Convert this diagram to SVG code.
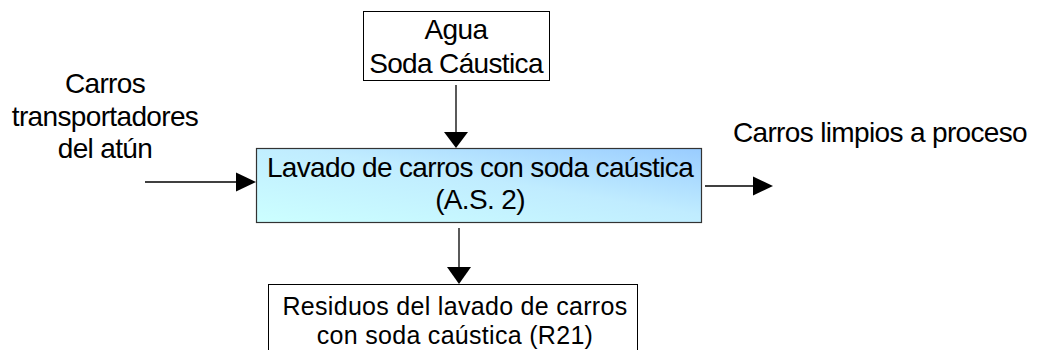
<svg xmlns="http://www.w3.org/2000/svg" width="1040" height="350" viewBox="0 0 1040 350">
<style>
text{font-family:"Liberation Sans",Arial,sans-serif;font-size:28px;fill:#000;text-anchor:middle;letter-spacing:-0.65px}
text.sm{font-size:25px;letter-spacing:0.3px}
.box{fill:#fff;stroke:#000;stroke-width:1}
.ln{stroke:#000;stroke-width:1.3;fill:none}
.ah{fill:#000}
</style>
<defs>
<linearGradient id="g" x1="0" y1="1" x2="1" y2="0">
<stop offset="0" stop-color="#ccffff"/>
<stop offset="0.55" stop-color="#c0ecff"/>
<stop offset="1" stop-color="#99ccff"/>
</linearGradient>
</defs>
<g id="entrada-agua">
<rect class="box" x="363.5" y="11.5" width="186" height="69"/>
<text x="456" y="39">Agua</text>
<text x="456" y="73">Soda Cáustica</text>
</g>
<g id="lavado">
<rect x="256.5" y="148.5" width="445" height="74" fill="url(#g)" stroke="#333" stroke-width="1.2"/>
<text x="480" y="176.5">Lavado de carros con soda caústica</text>
<text x="480" y="208.5">(A.S. 2)</text>
</g>
<g id="residuos">
<rect class="box" x="268.5" y="284.5" width="369" height="80"/>
<text class="sm" x="455" y="314.5">Residuos del lavado de carros</text>
<text class="sm" x="455" y="343.5">con soda caústica (R21)</text>
</g>
<g id="carros-entrada">
<text x="105" y="93">Carros</text>
<text x="105" y="126">transportadores</text>
<text x="105" y="158">del atún</text>
</g>
<g id="carros-salida">
<text x="880" y="142">Carros limpios a proceso</text>
</g>
<g id="connectors">
<line class="ln" x1="456" y1="85" x2="456" y2="134"/>
<polygon class="ah" points="444,132 468,132 456,148"/>
<line class="ln" x1="145" y1="182" x2="238" y2="182"/>
<polygon class="ah" points="236,172.5 236,191.5 256,182"/>
<line class="ln" x1="705" y1="186" x2="755" y2="186"/>
<polygon class="ah" points="753,176.5 753,195.5 773,186"/>
<line class="ln" x1="459" y1="228" x2="459" y2="269"/>
<polygon class="ah" points="447,267 471,267 459,284"/>
</g>
</svg>
